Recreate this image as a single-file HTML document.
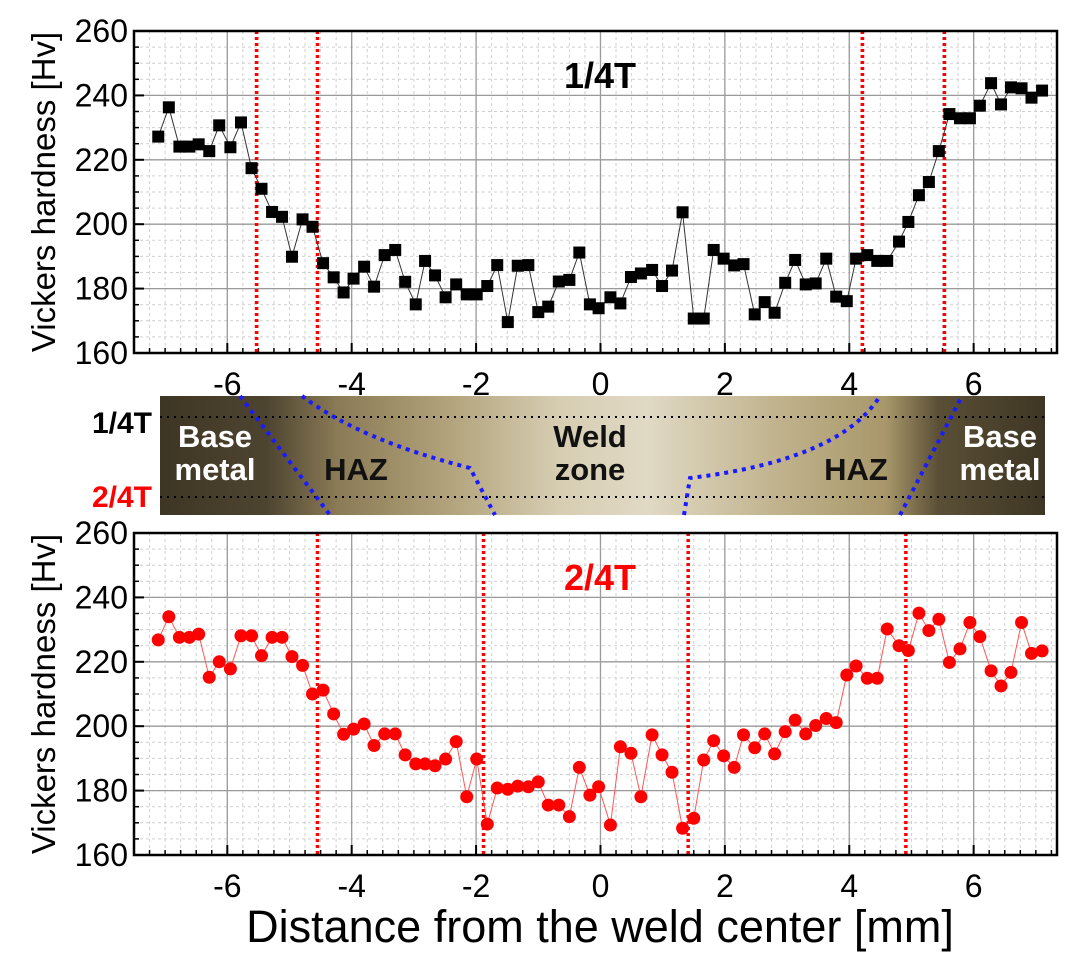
<!DOCTYPE html>
<html><head><meta charset="utf-8"><style>
body{margin:0;background:#fff;}
svg{display:block;font-family:"Liberation Sans",sans-serif;}
</style></head><body>
<svg id="fig" width="1090" height="970" viewBox="0 0 1090 970" xmlns="http://www.w3.org/2000/svg">
<defs>
<linearGradient id="metal" x1="0" x2="1" y1="0" y2="0">
<stop offset="0" stop-color="#3e3624"/><stop offset="0.12" stop-color="#4d4430"/>
<stop offset="0.2" stop-color="#8a7a55"/><stop offset="0.33" stop-color="#b3a47d"/>
<stop offset="0.45" stop-color="#d6cdb2"/><stop offset="0.55" stop-color="#e0d9c4"/>
<stop offset="0.7" stop-color="#c0b28c"/><stop offset="0.82" stop-color="#a8976a"/>
<stop offset="0.88" stop-color="#5a4f36"/><stop offset="1" stop-color="#3e3624"/>
</linearGradient>
</defs>
<g id="top"></g>
<g id="bottom"></g>
<g id="micro">
<rect x="160" y="396" width="885" height="119" fill="url(#metal)"/>
<line x1="160" y1="417" x2="1045" y2="417" stroke="#000" stroke-width="2" stroke-dasharray="2 5"/>
<line x1="160" y1="497" x2="1045" y2="497" stroke="#000" stroke-width="2" stroke-dasharray="2 5"/>
<g fill="none" stroke="#1a1aff" stroke-width="4" stroke-dasharray="4 5">
<path d="M240 396 L330 515"/>
<path d="M302 396 Q360 440 470 468 L495 515"/>
<path d="M684 515 L690 478 Q840 460 880 396"/>
<path d="M900 515 L962 396"/>
</g>
<g font-weight="bold" font-size="31" text-anchor="middle">
<text x="215" y="447" fill="#fff">Base</text>
<text x="215" y="480" fill="#fff">metal</text>
<text x="356" y="480" fill="#111">HAZ</text>
<text x="590" y="447" fill="#111">Weld</text>
<text x="590" y="480" fill="#111">zone</text>
<text x="856" y="480" fill="#111">HAZ</text>
<text x="1000" y="447" fill="#fff">Base</text>
<text x="1000" y="480" fill="#fff">metal</text>
</g>
<text x="152" y="433" font-size="30" font-weight="bold" text-anchor="end" fill="#000">1/4T</text>
<text x="152" y="507" font-size="30" font-weight="bold" text-anchor="end" fill="#f00">2/4T</text>
</g>
<text x="600" y="942" font-size="45" text-anchor="middle" fill="#000">Distance from the weld center [mm]</text>
</svg>
<script>
const xPos = [-7.11,-6.94,-6.77,-6.61,-6.46,-6.29,-6.13,-5.95,-5.78,-5.61,-5.45,-5.28,-5.12,-4.96,-4.79,-4.63,-4.46,-4.29,-4.13,-3.97,-3.80,-3.64,-3.47,-3.30,-3.14,-2.97,-2.82,-2.66,-2.49,-2.32,-2.15,-1.99,-1.82,-1.66,-1.49,-1.33,-1.16,-1.00,-0.84,-0.67,-0.50,-0.34,-0.17,-0.03,
0.16,0.32,0.49,0.65,0.83,0.99,1.15,1.32,1.50,1.66,1.82,1.98,2.15,2.30,2.48,2.64,2.80,2.97,3.13,3.30,3.46,3.63,3.79,3.96,4.11,4.29,4.45,4.61,4.80,4.95,5.12,5.28,5.44,5.61,5.78,5.94,6.10,6.28,6.44,6.60,6.77,6.93,7.10];
const hvQuarter = [227.2,236.3,224.1,224.1,224.8,222.7,230.7,223.9,231.6,217.4,211,203.8,202.3,189.9,201.5,199.2,187.9,183.5,178.8,183.1,186.8,180.6,190.4,192,182.1,175.1,188.6,184.1,177.3,181.3,178.2,178.2,180.8,187.3,169.6,187.1,187.3,172.7,174.4,182.2,182.7,191.2,175.1,173.9,
177.3,175.4,183.6,184.7,185.8,180.8,185.6,203.7,170.7,170.7,192,189.3,187.2,187.6,172,175.8,172.5,181.8,188.9,181.3,181.6,189.3,177.5,176.1,189.3,190.4,188.6,188.6,194.6,200.7,209,213.1,222.7,234.2,232.9,232.9,236.8,243.8,237.2,242.5,242.2,239.3,241.5];
const hvHalf = [226.8,234,227.6,227.6,228.6,215.2,220,217.8,228.1,228.1,221.9,227.6,227.6,221.6,218.9,210,211.2,203.8,197.5,199.1,200.7,194,197.6,197.6,191.1,188.3,188.3,187.7,189.8,195.2,178.1,189.8,169.6,180.8,180.4,181.4,181.2,182.7,175.5,175.5,171.9,187.2,178.6,181.2,
169.3,193.6,191.6,178.1,197.3,191.1,185.7,168.3,171.4,189.5,195.5,190.8,187.2,197.3,193.3,197.6,191.4,198.3,201.9,197.6,200.2,202.4,201.1,215.9,218.7,214.9,214.9,230.2,225,223.5,235.1,229.7,233.2,219.8,224,232.2,227.8,217.2,212.5,216.7,232.2,222.6,223.4];
const boundsQuarter = [-5.53,-4.55,4.21,5.53];
const boundsHalf = [-4.55,-1.88,1.41,4.91];
const xTicks = [-6,-4,-2,0,2,4,6];
const yTicks = [160,180,200,220,240,260];

const NS = "http://www.w3.org/2000/svg";
const X0 = 134, X1 = 1057, XMIN = -7.5, XMAX = 7.34;
function sx(v){ return X0 + (v - XMIN) / (XMAX - XMIN) * (X1 - X0); }
function mk(tag, attrs, parent){ const e = document.createElementNS(NS, tag); for (const k in attrs) e.setAttribute(k, attrs[k]); parent.appendChild(e); return e; }

function panel(g, top, bot, vals, bounds, color, square, title, key){
  const sy = v => bot - (v - 160) / 100 * (bot - top);
  for (let v = -7.5; v <= 7.34; v += 0.25) {
    const l = mk('line', {x1: sx(v), x2: sx(v), y1: top, y2: bot, stroke: '#d0d0d0', 'stroke-width': 1, 'stroke-dasharray': '3 3'}, g);
    
    
  }
  for (let v = 165; v < 260; v += 5) {
    const l = mk('line', {x1: X0, x2: X1, y1: sy(v), y2: sy(v), stroke: '#d0d0d0', 'stroke-width': 1, 'stroke-dasharray': '3 3'}, g);
    
    
  }
  xTicks.forEach(t => {
    const l = mk('line', {x1: sx(t), x2: sx(t), y1: top, y2: bot, stroke: '#9a9a9a', 'stroke-width': 1.3}, g);
    
    
    const tk = mk('line', {x1: sx(t), x2: sx(t), y1: bot, y2: bot - 10, stroke: '#000', 'stroke-width': 2}, g);
    
    
    const tx = mk('text', {x: sx(t), y: bot + 42, 'font-size': 32, 'text-anchor': 'middle', fill: '#000'}, g);
    tx.textContent = t;
    
    
  });
  for (let v = -7.25; v <= 7.34; v += 0.25) {
    const tk = mk('line', {x1: sx(v), x2: sx(v), y1: bot, y2: bot - 5, stroke: '#000', 'stroke-width': 1.5}, g);
    
    
  }
  yTicks.forEach(t => {
    const l = mk('line', {x1: X0, x2: X1, y1: sy(t), y2: sy(t), stroke: '#9a9a9a', 'stroke-width': 1.3}, g);
    
    
    const tk = mk('line', {x1: X0, x2: X0 + 10, y1: sy(t), y2: sy(t), stroke: '#000', 'stroke-width': 2}, g);
    
    
    const tx = mk('text', {x: X0 - 6, y: sy(t) + 11, 'font-size': 32, 'text-anchor': 'end', fill: '#000'}, g);
    tx.textContent = t;
    
    
  });
  for (let v = 165; v < 260; v += 5) {
    const tk = mk('line', {x1: X0, x2: X0 + 5, y1: sy(v), y2: sy(v), stroke: '#000', 'stroke-width': 1.5}, g);
    
    
  }
  bounds.forEach(b => {
    const l = mk('line', {x1: sx(b), x2: sx(b), y1: top, y2: bot, stroke: '#f00', 'stroke-width': 3.5, 'stroke-dasharray': '3 3'}, g);
    
    
  });
  const pts = vals.map((v, i) => sx(xPos[i]) + ',' + sy(v)).join(' ');
  const pl = mk('polyline', {points: pts, fill: 'none', stroke: square ? '#333' : '#f55', 'stroke-width': 1}, g);
  
  
  vals.forEach((v, i) => {
    let m;
    if (square) m = mk('rect', {x: sx(xPos[i]) - 6, y: sy(v) - 6, width: 12, height: 12, fill: color}, g);
    else m = mk('circle', {cx: sx(xPos[i]), cy: sy(v), r: 6.5, fill: color}, g);
    
    
  });
  const fr = mk('rect', {x: X0, y: top, width: X1 - X0, height: bot - top, fill: 'none', stroke: '#000', 'stroke-width': 2.5}, g);
  
  
  const tt = mk('text', {x: 600, y: top + 57, 'font-size': 36, 'font-weight': 'bold', 'text-anchor': 'middle', fill: color}, g);
  tt.textContent = title;
  
  
  const yt = mk('text', {x: 0, y: 0, 'font-size': 33, 'text-anchor': 'middle', fill: '#000', transform: 'translate(55,' + ((top + bot) / 2) + ') rotate(-90)'}, g);
  yt.textContent = 'Vickers hardness [Hv]';
  
  
}
const gt = document.getElementById('top');


panel(gt, 31, 353, hvQuarter, boundsQuarter, '#000', true, '1/4T', 'quarter');
const gb = document.getElementById('bottom');


panel(gb, 533, 855, hvHalf, boundsHalf, '#f00', false, '2/4T', 'half');
</script>
</body></html>
